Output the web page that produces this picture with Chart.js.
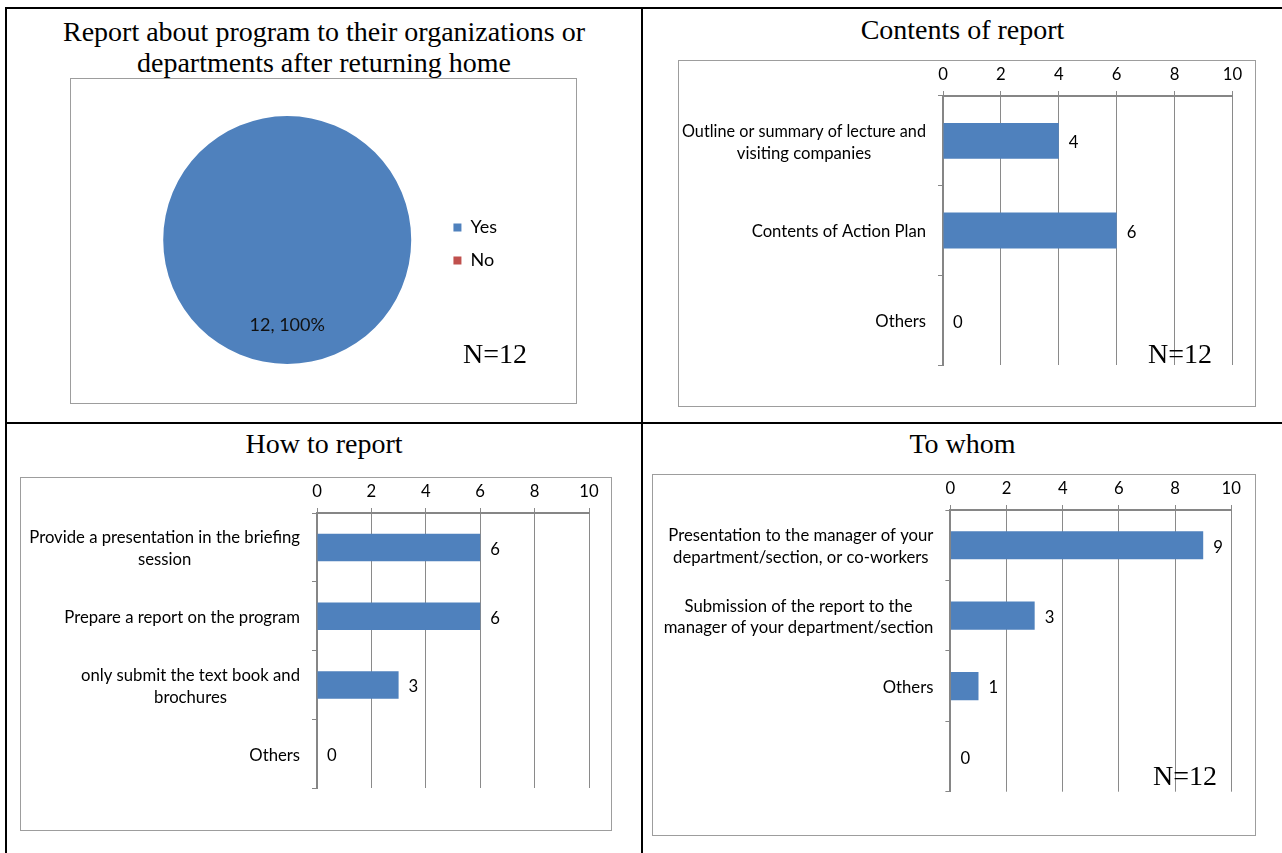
<!DOCTYPE html>
<html>
<head>
<meta charset="utf-8">
<script src="https://cdn.jsdelivr.net/npm/chart.js@4.4.1/dist/chart.umd.min.js"></script>
<style>
  html, body { margin:0; padding:0; background:#fff; }
  body { width:1282px; height:853px; position:relative; overflow:hidden; }
  .ln { position:absolute; background:#000; }
  .title { position:absolute; text-align:center; font-family:'Liberation Serif','Times New Roman',serif; font-size:28px; line-height:31px; color:#000; white-space:nowrap; }
  .box { position:absolute; box-sizing:border-box; border:1px solid #9d9d9d; background:#fff; }
  .box canvas { display:block; }
  .nlab { position:absolute; width:100px; text-align:center; font-family:'Liberation Serif','Times New Roman',serif; font-size:28px; line-height:32px; color:#000; }
</style>
</head>
<body>
<!-- table rules -->
<div class="ln" style="left:5px;top:7px;width:1277px;height:2px"></div>
<div class="ln" style="left:5px;top:7px;width:2px;height:846px"></div>
<div class="ln" style="left:641px;top:7px;width:2px;height:846px"></div>
<div class="ln" style="left:5px;top:422px;width:1277px;height:2px"></div>

<div class="title" style="left:6px;top:15.5px;width:636px">Report about program to their organizations or<br>departments after returning home</div>
<div class="title" style="left:643px;top:14px;width:639px">Contents of report</div>
<div class="title" style="left:6px;top:428px;width:636px">How to report</div>
<div class="title" style="left:643px;top:428px;width:639px">To whom</div>

<div class="box" style="left:70px;top:78px;width:507px;height:326px"><canvas id="c1" width="505" height="324"></canvas></div>
<div class="box" style="left:678px;top:60px;width:578px;height:347px"><canvas id="c2" width="576" height="345"></canvas></div>
<div class="box" style="left:20px;top:477px;width:592px;height:354px"><canvas id="c3" width="590" height="352"></canvas></div>
<div class="box" style="left:652px;top:474px;width:604px;height:362px"><canvas id="c4" width="602" height="360"></canvas></div>

<div class="nlab" style="left:445px;top:337.5px">N=12</div>
<div class="nlab" style="left:1130px;top:338px">N=12</div>
<div class="nlab" style="left:1135px;top:759.5px">N=12</div>

<script>
// ---------- data ----------
const pieLabels = ['Yes', 'No'];
const pieValues = [12, 0];

const contentsLabels = [['Outline or summary of lecture and', 'visiting companies'], ['Contents of Action Plan'], ['Others']];
const contentsValues = [4, 6, 0];

const howLabels = [['Provide a presentation in the briefing', 'session'], ['Prepare a report on the program'], ['only submit the text book and', 'brochures'], ['Others']];
const howValues = [6, 6, 3, 0];

const whomLabels = [['Presentation to the manager of your', 'department/section, or co-workers'], ['Submission of the report to the', 'manager of your department/section'], ['Others'], ['']];
const whomValues = [9, 3, 1, 0];

const valueTicks = [0, 2, 4, 6, 8, 10];

// ---------- styles ----------
const BLUE = '#4F81BD';
const RED = '#C0504D';
const GRID = '#8a8a8a';
const AXIS = '#868686';
const SANS = "Lato, 'Noto Sans', sans-serif";

const catLabelPlugin = {
  id: 'catLabels',
  afterDraw(chart) {
    const ctx = chart.ctx;
    const ys = chart.scales.y;
    ctx.save();
    ctx.font = '16.7px ' + SANS;
    ctx.fillStyle = '#000';
    ctx.textAlign = 'center';
    ctx.textBaseline = 'middle';
    const lh = 21.7;
    const right = ys.right - 17;
    const avail = right - ys.left - 3;
    chart.data.labels.forEach((lab, i) => {
      const lines = Array.isArray(lab) ? lab : [lab];
      const w = Math.min(avail, Math.max(...lines.map(l => ctx.measureText(l).width)));
      const cx = right - w / 2;
      const yc = ys.getPixelForValue(i) + 1.5;
      lines.forEach((l, k) => ctx.fillText(l, cx, yc + (k - (lines.length - 1) / 2) * lh, avail));
    });
    ctx.restore();
  }
};

const valueLabelPlugin = {
  id: 'valueLabels',
  afterDatasetsDraw(chart) {
    const ctx = chart.ctx;
    const meta = chart.getDatasetMeta(0);
    const data = chart.data.datasets[0].data;
    ctx.save();
    ctx.font = '16.7px ' + SANS;
    ctx.fillStyle = '#000';
    ctx.textAlign = 'left';
    ctx.textBaseline = 'middle';
    meta.data.forEach((el, i) => {
      ctx.fillText(String(data[i]), el.x + 10, el.y + 2);
    });
    ctx.restore();
  }
};

const pieLabelPlugin = {
  id: 'pieLabel',
  afterDatasetsDraw(chart) {
    const ctx = chart.ctx;
    const meta = chart.getDatasetMeta(0);
    const data = chart.data.datasets[0].data;
    const total = data.reduce((a, b) => a + b, 0);
    ctx.save();
    ctx.font = '18px ' + SANS;
    ctx.fillStyle = '#111';
    ctx.textAlign = 'center';
    ctx.textBaseline = 'middle';
    meta.data.forEach((arc, i) => {
      if (!data[i]) return;
      const p = arc.getProps(['x', 'y', 'startAngle', 'endAngle', 'outerRadius'], true);
      const mid = (p.startAngle + p.endAngle) / 2;
      const r = p.outerRadius * 0.69;
      ctx.fillText(data[i] + ', ' + Math.round(data[i] / total * 100) + '%', p.x + Math.cos(mid) * r, p.y + Math.sin(mid) * r);
    });
    ctx.restore();
  }
};

function barChart(id, labels, values, geo) {
  return new Chart(document.getElementById(id), {
    type: 'bar',
    data: {
      labels: labels,
      datasets: [{ data: values, backgroundColor: BLUE, borderWidth: 0, barPercentage: 0.4, categoryPercentage: 1 }]
    },
    options: {
      indexAxis: 'y',
      responsive: false,
      animation: false,
      devicePixelRatio: 1,
      layout: { padding: { left: 0, top: 0, right: geo.padR, bottom: geo.padB } },
      plugins: { legend: { display: false }, tooltip: { enabled: false } },
      scales: {
        x: {
          position: 'top', min: 0, max: 10,
          afterBuildTicks: s => { s.ticks = valueTicks.map(v => ({ value: v })); },
          ticks: { font: { family: SANS, size: 16.7 }, color: '#000', padding: 6.5 },
          grid: { color: GRID, lineWidth: 1, tickLength: 5, drawTicks: true },
          border: { display: true, color: AXIS, width: 2 },
          afterFit: s => { s.height = geo.top; }
        },
        y: {
          ticks: { display: false },
          grid: { drawOnChartArea: false, drawTicks: true, tickLength: 5, color: AXIS, offset: true },
          border: { display: true, color: AXIS, width: 2 },
          afterFit: s => { s.width = geo.left; }
        }
      }
    },
    plugins: [catLabelPlugin, valueLabelPlugin]
  });
}

function draw() {
  new Chart(document.getElementById('c1'), {
    type: 'pie',
    data: {
      labels: pieLabels,
      datasets: [{ data: pieValues, backgroundColor: [BLUE, RED], borderWidth: 0, radius: 124 }]
    },
    options: {
      responsive: false,
      animation: false,
      devicePixelRatio: 1,
      layout: { padding: { left: 65, top: 37, right: 69, bottom: 39 } },
      plugins: {
        legend: {
          position: 'right', align: 'center',
          labels: { boxWidth: 8, boxHeight: 8, padding: 15, color: '#000', font: { family: SANS, size: 18 } },
          title: { display: true, text: '', padding: 0, font: { size: 6.4, lineHeight: 1.25 } }
        },
        tooltip: { enabled: false }
      }
    },
    plugins: [pieLabelPlugin]
  });

  barChart('c2', contentsLabels, contentsValues, { left: 264, top: 35, padR: 22.5, padB: 41 });
  barChart('c3', howLabels, howValues, { left: 296, top: 35, padR: 22, padB: 42 });
  barChart('c4', whomLabels, whomValues, { left: 297.4, top: 35, padR: 23.7, padB: 43.3 });
}

Promise.all([
  document.fonts.load('17px Lato'),
  document.fonts.load('18px Lato'),
  document.fonts.load("28px 'Liberation Serif'")
]).then(draw, draw);
</script>
</body>
</html>
